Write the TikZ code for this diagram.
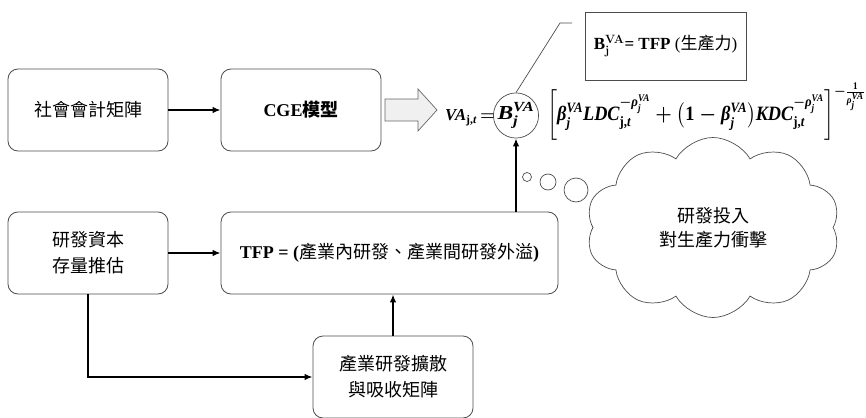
\documentclass[tikz,border=0pt]{standalone}
\usepackage{amsmath}
\usepackage{fontspec}
\setmainfont{Liberation Serif}
\newfontfamily\cjk{Noto Sans CJK TC}
\usetikzlibrary{arrows.meta,shapes.symbols,shapes.geometric}

\newcommand{\fmlsize}{\fontsize{20}{24}\selectfont}
% bold italic and bold upright text symbols inside the formula
\newcommand{\bi}[1]{\text{\normalfont\bfseries\itshape #1}}
\newcommand{\bn}[1]{\text{\normalfont\bfseries #1}}
\newcommand{\vaup}{^{\bi{VA}}}
\newsavebox{\lhsbox}
\newsavebox{\bvabox}
\newsavebox{\rhsbox}
\newsavebox{\defbox}

\begin{document}
% pre-typeset formula parts
\sbox{\lhsbox}{\resizebox{50pt}{!}{\fmlsize\boldmath$\bi{VA}_{\bn{j,}\bi{t}}\,{=}$}}%
\sbox{\bvabox}{\resizebox*{37pt}{26pt}{\fmlsize\boldmath$\bi{B}_{\bi{j}}\vaup$}}%
\sbox{\rhsbox}{\resizebox*{318pt}{58pt}{\fmlsize\boldmath$\bigg[\bi{β}_{\bi{j}}\vaup\bi{LDC}_{\bn{j,}\bi{t}}^{-\bi{ρ}_{\bi{j}}\vaup}
   + \big(\bn{1}-\bi{β}_{\bi{j}}\vaup\big)\bi{KDC}_{\bn{j,}\bi{t}}^{-\bi{ρ}_{\bi{j}}\vaup}\bigg]^{-\frac{\bn{1}}{\bi{ρ}_{\bi{j}}\vaup}}$}}%
\sbox{\defbox}{\fontsize{17}{20}\selectfont\textbf{B}\boldmath$_{\mathbf{j}}^{\mathbf{VA}}$\textbf{= TFP} ({\cjk 生產力})}%
\begin{tikzpicture}[x=1pt,y=-1pt,
  box/.style={draw=black!70, line width=0.8pt, rounded corners=10pt,
    minimum width=160pt, minimum height=82pt, align=center,
    font=\fontsize{18}{26}\selectfont},
  arr/.style={line width=1.8pt, -{Latex[length=8pt,width=6.5pt]}},
  outl/.style={draw=black!70, line width=0.7pt},
  bub/.style={circle, outl, inner sep=0pt},
  fml/.style={inner sep=0pt}]

\useasboundingbox (0,0) rectangle (866,417);

% process boxes
\node[box] (sam) at (88,110) {{\cjk 社會會計矩陣}};
\node[box] (cge) at (301,110) {\textbf{CGE}{\cjk\bfseries 模型}};
\node[box] (rd)  at (88,253) {{\cjk 研發資本}\\{\cjk 存量推估}};
\node[box, minimum width=337pt] (tfp) at (389.5,253)
  {\textbf{TFP = (}{\cjk 產業內研發、產業間研發外溢}\textbf{)}};
\node[box] (diff) at (393,377) {{\cjk 產業研發擴散}\\{\cjk 與吸收矩陣}};

% block arrow into the production function
\draw[draw=black!60, line width=0.7pt, fill=black!6]
  (385,99) -- (418,99) -- (418,89) -- (437,110) -- (418,131) -- (418,121)
  -- (385,121) -- cycle;

% value-added production function
\node[fml, anchor=west] (lhs) at (445,118) {\usebox{\lhsbox}};
\node[circle, outl, minimum size=45pt, inner sep=0pt] (bva) at (516,115.5) {\usebox{\bvabox}};
\node[fml, anchor=south west] (rhs) at (547,141) {\usebox{\rhsbox}};

% definition callout
\node[outl, minimum width=161pt, minimum height=68pt] (def) at (665.5,46) {\usebox{\defbox}};
\coordinate (stub) at (572,23);
\draw[outl] (stub) -- ++(-12,0) -- (bva.north);

% thought bubbles and cloud
\node[bub, minimum size=9pt]  (b1) at (527,177) {};
\node[bub, minimum size=16pt] (b2) at (548,182) {};
\node[bub, minimum size=24pt] (b3) at (576,190) {};
\node[cloud, cloud puffs=10, cloud puff arc=120, cloud ignores aspect, outl,
  minimum width=254pt, minimum height=180pt, align=center,
  font=\fontsize{18}{24}\selectfont\cjk] (cloud) at (713,227.5)
  {研發投入\\對生產力衝擊};

% connectors
\draw[arr] (sam.east) -- (cge.west);
\draw[arr] (rd.east) -- (tfp.west);
\draw[arr] (rd.south) |- (diff.west);
\draw[arr] (diff.north) -- (diff.north |- tfp.south);
\draw[arr] (bva.south |- tfp.north) -- (bva.south);
\end{tikzpicture}
\end{document}
